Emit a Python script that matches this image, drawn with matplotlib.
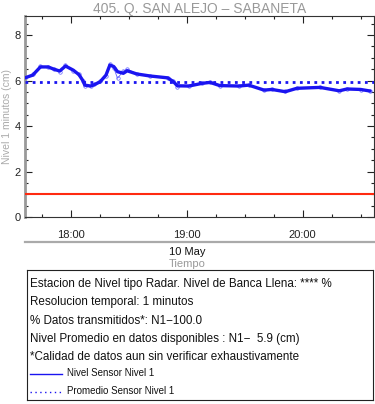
import numpy as np
import pandas as pd
import matplotlib
matplotlib.use("Agg")
import matplotlib.pyplot as plt
import matplotlib.dates as mdates

plt.rcParams['font.family'] = ['Liberation Sans', 'DejaVu Sans']

# level readings (cm), times on 10 May
times = ["17:36", "17:40", "17:44", "17:48", "17:51", "17:54", "17:57", "18:01",
         "18:04", "18:06", "18:07", "18:10", "18:12", "18:15", "18:18", "18:20",
         "18:22", "18:24", "18:27", "18:29", "18:34", "18:41", "18:50", "18:53",
         "18:55", "19:01", "19:08", "19:12", "19:17", "19:27", "19:32", "19:40",
         "19:44", "19:51", "19:57", "20:09", "20:19", "20:23", "20:30", "20:35"]
nivel = [6.12, 6.24, 6.60, 6.60, 6.50, 6.42, 6.64, 6.46,
         6.26, 6.00, 5.80, 5.76, 5.82, 5.95, 6.24, 6.68,
         6.62, 6.39, 6.32, 6.43, 6.29, 6.20, 6.12, 5.95,
         5.77, 5.76, 5.88, 5.92, 5.78, 5.76, 5.80, 5.58,
         5.61, 5.51, 5.66, 5.70, 5.55, 5.63, 5.61, 5.54]
nivel_raw = [6.10, 6.28, 6.64, 6.58, 6.52, 6.38, 6.70, 6.42,
             6.30, 5.98, 5.76, 5.74, 5.84, 5.96, 6.22, 6.74,
             6.56, 6.10, 6.42, 6.50, 6.30, 6.22, 6.12, 5.96,
             5.72, 5.76, 5.88, 5.94, 5.78, 5.76, 5.82, 5.58,
             5.62, 5.52, 5.66, 5.70, 5.56, 5.64, 5.60, 5.52]
promedio = 5.94
banca = 1.0

t = pd.to_datetime(["2024-05-10 " + s for s in times])

fig = plt.figure(figsize=(3.75, 4.04), dpi=100)
ax = fig.add_axes([25/375, 1-217/404, 349/375, 201/404])

ax.plot(t, nivel_raw, color='#6060ff', lw=0.6, marker='o', ms=2.5, mfc='none', mew=0.5, zorder=2)
ax.plot(t, nivel, color='#1a14f0', lw=2.4, solid_joinstyle='round', solid_capstyle='round', zorder=3)
ax.axhline(promedio, color='#1a14f0', lw=2, ls=(0, (1, 1.6)), zorder=3)
ax.axhline(banca, color='#ff2a10', lw=1.5, zorder=3)

ax.set_xlim(pd.Timestamp("2024-05-10 17:36"), pd.Timestamp("2024-05-10 20:37"))
ax.set_ylim(0, 8.84)
ax.set_yticks([0, 2, 4, 6, 8])
ax.yaxis.set_minor_locator(matplotlib.ticker.MultipleLocator(0.5))
ax.xaxis.set_major_locator(mdates.HourLocator())
ax.xaxis.set_minor_locator(mdates.MinuteLocator(byminute=[15, 30, 45]))
ax.xaxis.set_major_formatter(mdates.DateFormatter('%H:%M'))
ax.tick_params(which='both', direction='in', top=True, right=True, labelsize=8, colors='#222222')
ax.tick_params(which='major', length=5, width=0.8)
ax.tick_params(which='minor', length=2.5, width=0.8)
ax.tick_params(axis='x', pad=9)
ax.tick_params(axis='y', pad=3)

for s in ['top', 'right', 'bottom']:
    ax.spines[s].set_color('#333333')
    ax.spines[s].set_linewidth(0.8)
ax.spines['left'].set_color('#999999')
ax.spines['left'].set_linewidth(2)

ax.set_ylabel('Nivel 1 minutos (cm)', color='#aaaaaa', fontsize=7.5, labelpad=2)
ax.set_title('405. Q. SAN ALEJO \u2013 SABANETA', color='#999999', fontsize=10, pad=2)

# date line under the axis
fig.add_artist(plt.Line2D([25/375, 374/375], [1-242/404, 1-242/404], color='#aaaaaa', lw=1.6))
fig.text(187/375, 1-252/404, '10 May', ha='center', va='center', fontsize=8, color='#111111')
fig.text(187/375, 1-264/404, 'Tiempo', ha='center', va='center', fontsize=8, color='#999999')

# info box
box = fig.add_axes([27/375, 1-400/404, 346/375, 130/404])
box.set_xlim(0, 346)
box.set_ylim(130, 0)
box.set_xticks([])
box.set_yticks([])
for s in box.spines.values():
    s.set_linewidth(0.8)
    s.set_color('#222222')

lines = ["Estacion de Nivel tipo Radar. Nivel de Banca Llena: **** %",
         "Resolucion temporal: 1 minutos",
         "% Datos transmitidos*: N1\u2212100.0",
         "Nivel Promedio en datos disponibles : N1\u2212  5.9 (cm)",
         "*Calidad de datos aun sin verificar exhaustivamente"]
for i, s in enumerate(lines):
    box.text(3, 14 + i*18.3, s, fontsize=8.4, va='center', color='#111111')

box.plot([3, 35], [104, 104], color='#1a14f0', lw=1)
box.text(40, 103, 'Nivel Sensor Nivel 1', fontsize=7, va='center', color='#111111')
box.plot([3, 35], [122, 122], color='#1a14f0', lw=1, ls=(0, (1, 2.5)))
box.text(40, 121, 'Promedio Sensor Nivel 1', fontsize=7, va='center', color='#111111')

fig.savefig('out.png', dpi=100)
